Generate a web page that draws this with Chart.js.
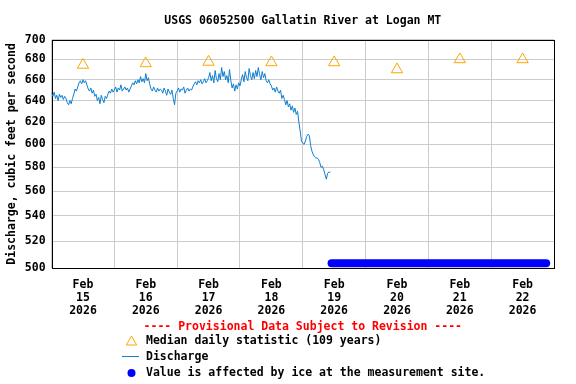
<!DOCTYPE html>
<html>
<head>
<meta charset="utf-8">
<script src="https://cdn.jsdelivr.net/npm/chart.js@4/dist/chart.umd.min.js"></script>
<style>
  html, body { margin: 0; padding: 0; background: #fff; }
</style>
</head>
<body>
<canvas id="chart" width="576" height="384"></canvas>
<script>
// ---- data ----
const chartTitle = 'USGS 06052500 Gallatin River at Logan MT';
const yAxisTitle = 'Discharge, cubic feet per second';
const provisionalNote = '---- Provisional Data Subject to Revision ----';
const legendLabels = ['Median daily statistic (109 years)', 'Discharge', 'Value is affected by ice at the measurement site.'];

const monthLabel = 'Feb';
const yearLabel = '2026';
const dayLabels = ['15', '16', '17', '18', '19', '20', '21', '22'];
const dayNoonHours = [12, 36, 60, 84, 108, 132, 156, 180];      // hours since Feb 15 00:00
const midnightHours = [0, 24, 48, 72, 96, 120, 144, 168, 192];
const yTicks = [500, 520, 540, 560, 580, 600, 620, 640, 660, 680, 700];

const medianValues = [674.5, 676, 677.5, 677, 677, 670, 680, 680];

// discharge every 30 minutes from Feb 15 00:00
const dischargeStepHours = 0.5;
const dischargeValues = [
  647,644,648,642,645,640,646,643,645,641,644,642,
  638,636,640,637,642,646,651,649,653,657,659,656,
  660,657,659,655,651,649,652,647,650,644,646,640,
  643,637,645,641,638,644,642,646,649,647,651,648,
  650,653,648,652,650,655,649,651,653,650,652,648,
  651,654,657,655,659,656,660,657,663,658,661,657,
  666,659,662,656,651,649,653,650,648,652,649,651,
  650,647,652,649,645,651,648,646,650,642,636,647,
  649,652,648,651,650,653,647,650,652,649,651,650,
  653,656,658,655,659,657,660,656,658,661,657,659,
  662,667,659,664,657,669,661,658,666,660,672,663,
  668,660,664,657,670,659,652,656,649,655,651,657,
  654,660,665,658,668,662,659,671,664,660,667,661,
  669,663,672,665,660,668,662,666,659,657,660,656,
  654,650,652,648,653,649,647,650,642,645,641,636,
  640,634,637,631,635,629,633,627,630,620,612,603,
  601,600,603,607,609,608,599,594,591,589,588,588,
  587,584,580,581,578,574,570,575,576,576
];

// ice-affected period (start / end), drawn as a band of dots near the bottom
const iceHours = [107, 189];
const iceValues = [503.5, 503.5];

// ---- styles ----
const FONT = "'DejaVu Sans Mono', monospace";
const medianColor = '#ffa500';
const dischargeColor = '#0f7fd0';
const iceColor = '#0000ff';
const gridColor = '#cccccc';

Chart.defaults.font.family = FONT;
Chart.defaults.font.weight = 'bold';
Chart.defaults.font.size = 11.5;
Chart.defaults.color = '#000';

const dischargePoints = dischargeValues.map((v, i) => ({ x: i * dischargeStepHours, y: v }));
const medianPoints = medianValues.map((v, i) => ({ x: dayNoonHours[i], y: v }));
const icePoints = iceValues.map((v, i) => ({ x: iceHours[i], y: v }));

// frame round the plot area
const framePlugin = {
  id: 'frame',
  beforeDatasetsDraw(chart) {
    const a = chart.chartArea, ctx = chart.ctx;
    ctx.save();
    ctx.strokeStyle = '#000';
    ctx.lineWidth = 1;
    ctx.strokeRect(Math.round(a.left) + 0.5, Math.round(a.top) + 0.5,
                   Math.round(a.right - a.left), Math.round(a.bottom - a.top));
    ctx.restore();
  }
};

// USGS style legend under the axis
const legendPlugin = {
  id: 'usgsLegend',
  afterDraw(chart) {
    const ctx = chart.ctx;
    const a = chart.chartArea;
    const sx = 131.5, tx = 146;
    ctx.save();
    ctx.font = 'bold 11.5px ' + FONT;
    ctx.textBaseline = 'middle';
    ctx.textAlign = 'center';
    ctx.fillStyle = '#ff0000';
    ctx.fillText(provisionalNote, (a.left + a.right) / 2, 327);

    // triangle
    const r = 6, cy = 342;
    ctx.strokeStyle = medianColor;
    ctx.lineWidth = 1;
    ctx.beginPath();
    ctx.moveTo(sx, cy - r);
    ctx.lineTo(sx + r * Math.sin(2 * Math.PI / 3), cy + r / 2);
    ctx.lineTo(sx - r * Math.sin(2 * Math.PI / 3), cy + r / 2);
    ctx.closePath();
    ctx.stroke();

    // line
    ctx.strokeStyle = dischargeColor;
    ctx.beginPath();
    ctx.moveTo(122, 356.5);
    ctx.lineTo(139, 356.5);
    ctx.stroke();

    // dot
    ctx.fillStyle = iceColor;
    ctx.beginPath();
    ctx.arc(sx, 373, 4, 0, Math.PI * 2);
    ctx.fill();

    ctx.fillStyle = '#000';
    ctx.textAlign = 'left';
    ctx.fillText(legendLabels[0], tx, 341);
    ctx.fillText(legendLabels[1], tx, 357);
    ctx.fillText(legendLabels[2], tx, 373);
    ctx.restore();
  }
};

new Chart(document.getElementById('chart'), {
  type: 'line',
  data: {
    datasets: [
      {
        label: legendLabels[2],
        data: icePoints,
        borderColor: iceColor,
        borderWidth: 8,
        borderCapStyle: 'round',
        pointRadius: 0,
        clip: false
      },
      {
        label: legendLabels[1],
        data: dischargePoints,
        borderColor: dischargeColor,
        borderWidth: 1,
        pointRadius: 0,
        tension: 0
      },
      {
        label: legendLabels[0],
        data: medianPoints,
        showLine: false,
        pointStyle: 'triangle',
        pointRadius: 6.5,
        borderWidth: 1,
        borderColor: medianColor,
        backgroundColor: 'rgba(0,0,0,0)'
      }
    ]
  },
  options: {
    responsive: false,
    animation: false,
    devicePixelRatio: 1,
    layout: { padding: { left: 0, right: 22, top: 0, bottom: 63 } },
    plugins: {
      legend: { display: false },
      tooltip: { enabled: false },
      title: {
        display: true,
        text: chartTitle,
        fullSize: false,
        font: { size: 11.5, weight: 'bold' },
        color: '#000',
        padding: { top: 14, bottom: 12 }
      }
    },
    scales: {
      x: {
        type: 'linear',
        min: 0,
        max: 192,
        afterBuildTicks: s => { s.ticks = midnightHours.map(v => ({ value: v })); },
        grid: { color: gridColor, drawTicks: false },
        border: { display: false },
        ticks: { display: false }
      },
      xLabels: {
        type: 'linear',
        position: 'bottom',
        min: 0,
        max: 192,
        afterBuildTicks: s => { s.ticks = dayNoonHours.map(v => ({ value: v })); },
        grid: { display: false },
        border: { display: false },
        ticks: {
          autoSkip: false,
          maxRotation: 0,
          padding: 3,
          font: { size: 11.5, weight: 'bold', lineHeight: 1.13 },
          callback: v => [monthLabel, dayLabels[dayNoonHours.indexOf(v)], yearLabel]
        }
      },
      y: {
        type: 'logarithmic',
        min: 500,
        max: 700,
        afterBuildTicks: s => { s.ticks = yTicks.map(v => ({ value: v })); },
        grid: { color: gridColor, drawTicks: false },
        border: { display: false },
        ticks: { padding: 6, callback: v => String(v) },
        title: {
          display: true,
          text: yAxisTitle,
          font: { size: 11.5, weight: 'bold' },
          color: '#000',
          padding: { top: 5, bottom: 0 }
        }
      }
    }
  },
  plugins: [framePlugin, legendPlugin]
});
</script>
</body>
</html>
